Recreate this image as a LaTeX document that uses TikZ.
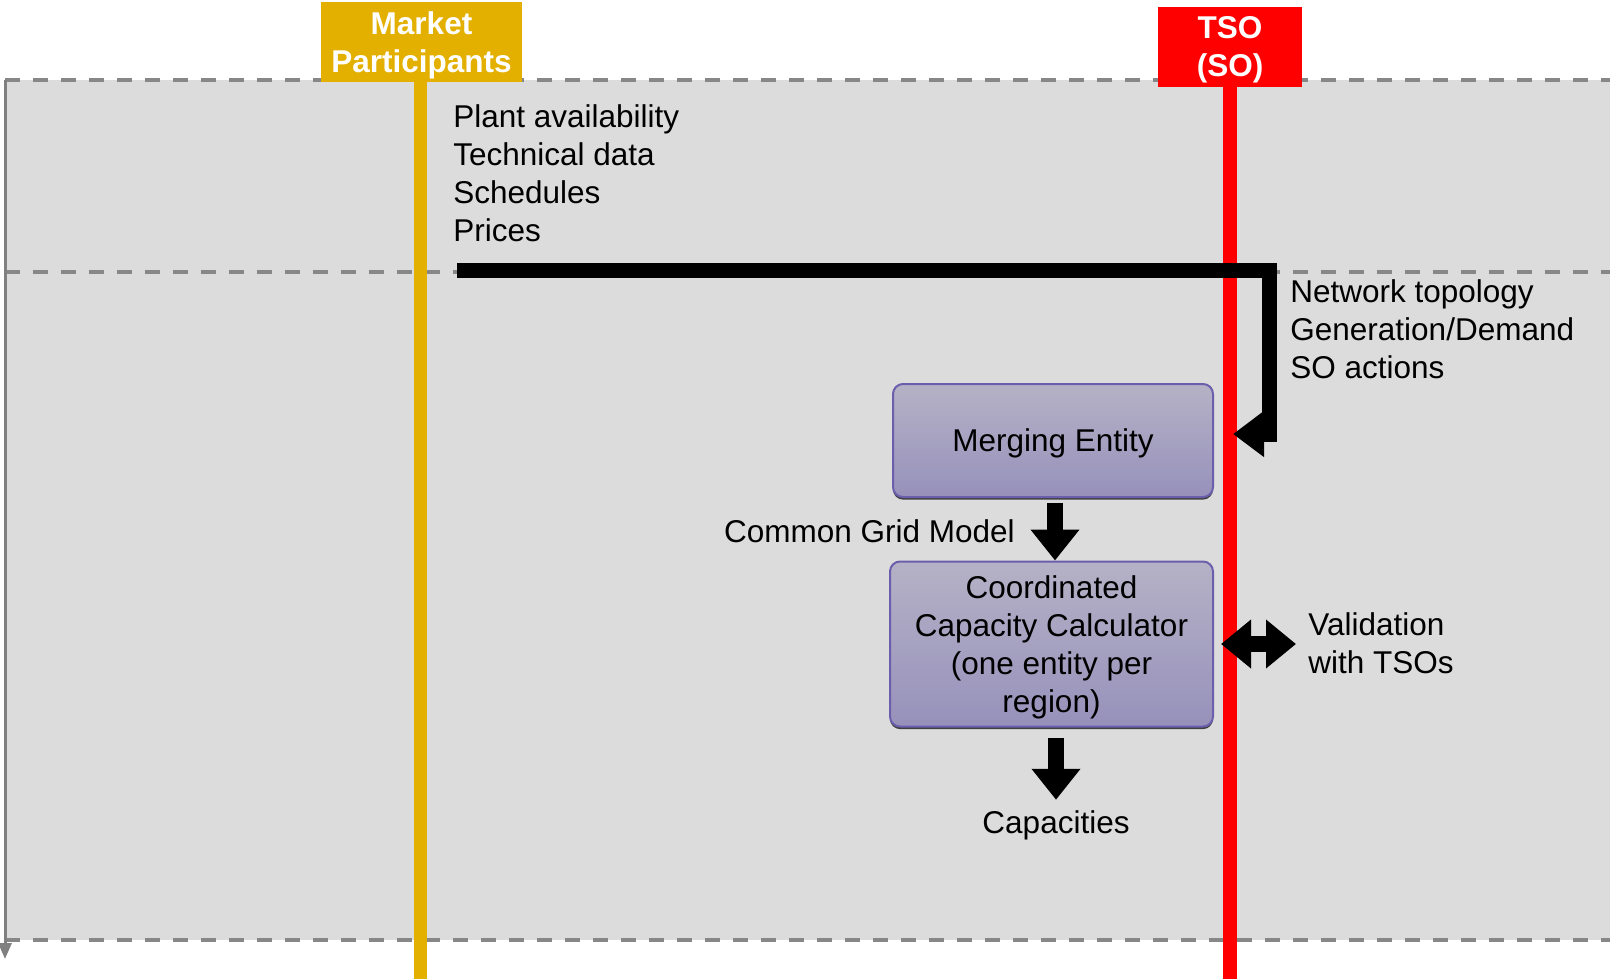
\documentclass[tikz,border=0pt]{standalone}
\usepackage{fontspec}
\setmainfont{Liberation Sans}
\usetikzlibrary{arrows.meta,shadows}
\definecolor{mpgold}{HTML}{E3B000}
\definecolor{tsored}{HTML}{FF0000}
\definecolor{lanegray}{HTML}{DCDCDC}
\definecolor{dashgray}{HTML}{878787}
\definecolor{axisgray}{HTML}{808080}
\definecolor{boxtop}{HTML}{B5B2C6}
\definecolor{boxbot}{HTML}{9791BB}
\definecolor{boxedge}{HTML}{6B5FAD}

\begin{document}
\begin{tikzpicture}[x=0.5pt,y=-0.5pt,font=\fontsize{15.75pt}{19pt}\selectfont]
		\newcommand{\laneleft}{5}
		\newcommand{\laneright}{1610}
		\newcommand{\topy}{80} % upper edge of the lanes
		\newcommand{\midy}{272}
		\newcommand{\boty}{940}
		\newcommand{\pagey}{979}

		% set the styles
		\tikzset{
			lane/.style={dashgray, line width=2pt, dash pattern=on 7.5pt off 6.5pt},
			header/.style={text=white, font=\fontsize{15.75pt}{19pt}\selectfont\bfseries,
				align=center, inner sep=0pt, text depth=-2pt},
			txt/.style={inner sep=0pt, align=left},
			entity/.style={draw=boxedge, line width=1pt, rounded corners=5pt,
				top color=boxtop, bottom color=boxbot, align=center, text depth=0pt,
				drop shadow={shadow xshift=0pt, shadow yshift=-1.3pt, fill=black!75, opacity=1}},
			fat/.style={line width=8pt, -{Triangle[length=15.5pt,width=23.5pt]}},
			dbl/.style={line width=8pt, {Triangle[length=15pt,width=23.5pt]}-{Triangle[length=15pt,width=23.5pt]}},
			elbow/.style={line width=7.5pt, line join=miter, -{Triangle[length=15.5pt,width=22pt]}}
		}
		\useasboundingbox (0,0) rectangle (\laneright,\pagey);

		% lanes
		\fill[lanegray] (\laneleft,\topy) rectangle (\laneright,\boty);
		\draw[lane] (\laneleft,\topy) -- (\laneright,\topy);
		\draw[lane] (\laneleft,\midy) -- (\laneright,\midy);
		\draw[lane] (\laneleft,\boty) -- (\laneright,\boty);
		\coordinate (axtop) at (\laneleft,\topy);
		\coordinate (axend) at (\laneleft,959);
		\draw[axisgray, line width=1.5pt, -{Triangle[length=8pt,width=6.5pt]}] (axtop) -- (axend);

		% actors
		\node[header, fill=mpgold, minimum width=100.5pt, minimum height=40pt] (mp) at (421.5,42) {Market\\Participants};
		\node[header, fill=tsored, minimum width=72pt, minimum height=40pt] (tso) at (1230,47) {TSO\\(SO)};
		\draw[mpgold, line width=6.5pt] (mp.south -| 420.5,0) -- (420.5,\pagey);
		\draw[tsored, line width=7pt] (tso.south) -- (tso.south |- 0,\pagey);

		% entities
		\node[entity, minimum width=160pt, minimum height=56.5pt] (me) at (1053,440.5) {Merging Entity};
		\node[entity, minimum width=161.5pt, minimum height=82.5pt] (ccc) at (1051.5,644)
			{Coordinated\\Capacity Calculator\\(one entity per\\region)};

		% data
		\node[txt, anchor=north west] (mpdata) at (453,104.5) {Plant availability\\Technical data\\Schedules\\Prices};
		\node[txt, anchor=north west] (sodata) at (1290,279.5) {Network topology\\Generation/Demand\\SO actions};
		\node[txt, anchor=base east] (cgm) at (1015,542) {Common Grid Model};
		\node[txt, anchor=base] (cap) at (1056,833) {Capacities};
		\node[txt, anchor=north west] (val) at (1308,612.5) {Validation\\with TSOs};

		% arrows
		\coordinate (barstart) at (457,270);
		\coordinate (barcorner) at (1269,270);
		\coordinate (bartip) at (1233,434);
		\draw[elbow] (barstart) -- (barcorner) |- (bartip);
		\draw[fat] ([yshift=-2.5pt]me.south -| 1055,0) -- (1055,0 |- ccc.north);
		\draw[fat] ([yshift=-5pt]ccc.south -| 1056,0) -- ([yshift=5pt]1056,0 |- cap.north);
		\draw[dbl] ([xshift=3.5pt]ccc.east) -- ([xshift=-6pt]ccc.east -| val.west);
\end{tikzpicture}
\end{document}
